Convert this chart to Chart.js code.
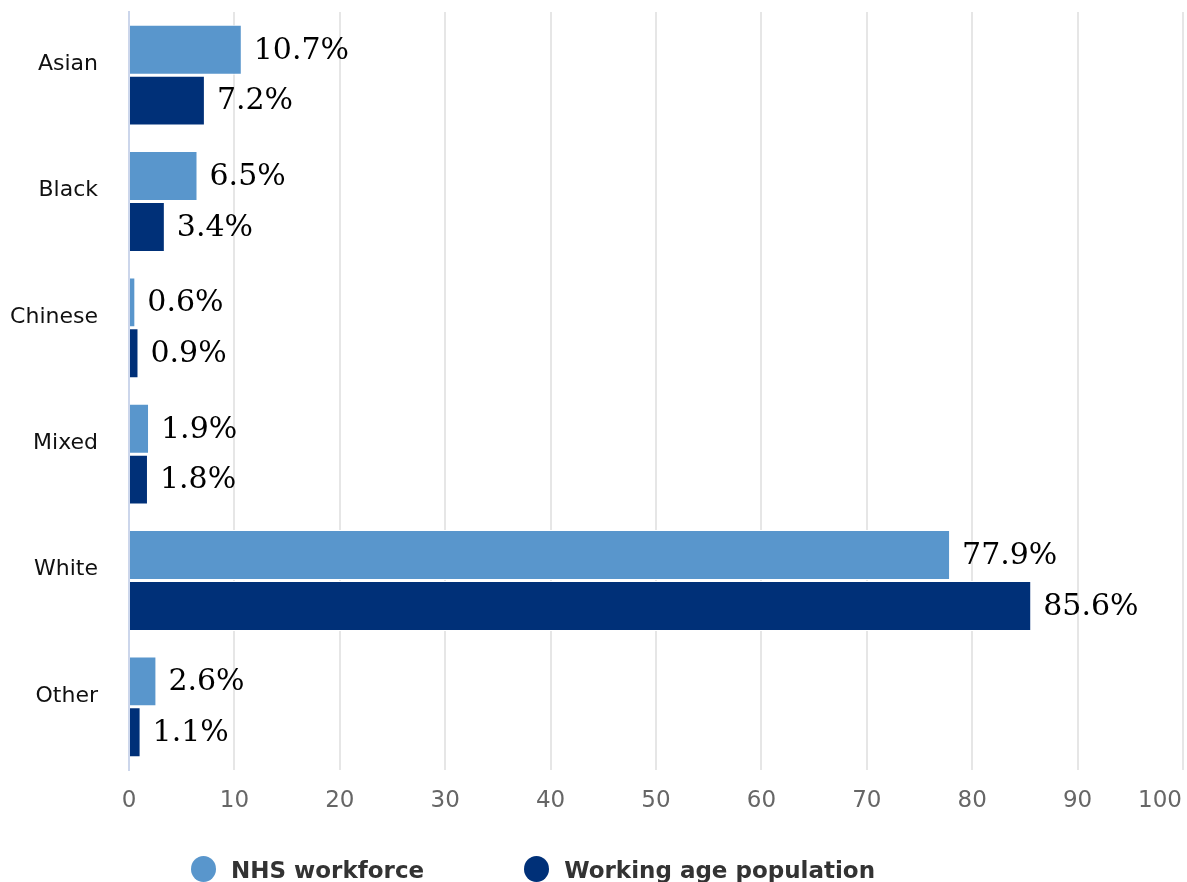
<!DOCTYPE html>
<html>
<head>
<meta charset="utf-8">
<script src="https://cdn.jsdelivr.net/npm/chart.js@4.4.1/dist/chart.umd.min.js"></script>
<style>
    html, body {
        margin: 0;
        padding: 0;
        background: #fff;
        overflow: hidden;
    }
    .wrap {
        position: relative;
        width: 1187px;
        height: 882px;
    }
    .legend {
        position: absolute;
        left: 191px;
        top: 857px;
        display: flex;
        gap: 100px;
        font-family: "DejaVu Sans", sans-serif;
        font-weight: bold;
        font-size: 23px;
        line-height: 26px;
        color: #333;
        white-space: nowrap;
    }
    .legend_item {
        display: flex;
        align-items: flex-start;
    }
    .dot {
        width: 25px;
        height: 26px;
        border-radius: 50%;
        margin-top: -1px;
        margin-right: 15px;
    }
</style>
</head>
<body>
<div class="wrap">
    <canvas id="chart"></canvas>
    <div class="legend" id="legend"></div>
</div>
<script>
// Данные
const categories = ['Asian', 'Black', 'Chinese', 'Mixed', 'White', 'Other'];
const nhs_workforce = [10.7, 6.5, 0.6, 1.9, 77.9, 2.6];
const working_age = [7.2, 3.4, 0.9, 1.8, 85.6, 1.1];
const x_ticks = [0, 10, 20, 30, 40, 50, 60, 70, 80, 90, 100];

const series = [
    {label: 'NHS workforce', color: '#5996cc', values: nhs_workforce},
    {label: 'Working age population', color: '#003078', values: working_age}
];

const TICK_SIZE = 23;
const TICK_PADDING = 17;

// Подписи значений справа от столбцов
const valueLabels = {
    id: 'valueLabels',
    afterDatasetsDraw(chart) {
        const ctx = chart.ctx;
        ctx.save();
        ctx.font = '30px "DejaVu Serif", serif';
        ctx.fillStyle = '#000';
        ctx.textAlign = 'left';
        ctx.textBaseline = 'middle';
        chart.data.datasets.forEach((ds, i) => {
            chart.getDatasetMeta(i).data.forEach((bar, j) => {
                ctx.fillText(ds.data[j].toFixed(1) + '%', bar.x + 12, bar.y + 1);
            });
        });
        ctx.restore();
    }
};

// Последняя подпись оси X прижата к правому краю, чтобы не обрезалась
const lastTick = {
    id: 'lastTick',
    afterDraw(chart) {
        const scale = chart.scales.x;
        const value = x_ticks[x_ticks.length - 1];
        const ctx = chart.ctx;
        ctx.save();
        ctx.font = TICK_SIZE + 'px "DejaVu Sans", sans-serif';
        ctx.fillStyle = '#666';
        ctx.textBaseline = 'middle';
        ctx.textAlign = 'right';
        const text = String(value);
        const w = ctx.measureText(text).width;
        const right = Math.min(scale.getPixelForValue(value) + w / 2, chart.width - 5);
        ctx.fillText(text, right, scale.top + TICK_PADDING + TICK_SIZE * 1.2 / 2);
        ctx.restore();
    }
};

const options = {
    indexAxis: 'y',
    responsive: true,
    maintainAspectRatio: false,
    animation: false,
    layout: {
        padding: {left: 10, top: 12, right: 4, bottom: 68}
    },
    plugins: {
        legend: {display: false},
        tooltip: {enabled: false}
    },
    scales: {
        x: {
            min: 0,
            max: 100,
            afterBuildTicks: (scale) => {
                scale.ticks = x_ticks.map(v => ({value: v}));
            },
            afterFit: (scale) => {
                scale.paddingLeft = 0;
                scale.paddingRight = 0;
                scale.height = 44;
            },
            grid: {
                drawTicks: false,
                lineWidth: 2,
                color: (c) => (c.tick && c.tick.value === 0) ? 'rgba(0,0,0,0)' : '#e6e6e6'
            },
            border: {display: false},
            ticks: {
                padding: TICK_PADDING,
                color: '#666',
                font: {family: '"DejaVu Sans", sans-serif', size: TICK_SIZE},
                maxRotation: 0,
                autoSkip: false,
                callback: (v) => v === x_ticks[x_ticks.length - 1] ? '' : String(v)
            }
        },
        y: {
            afterFit: (scale) => {
                scale.width = 119;
                scale.paddingTop = 0;
                scale.paddingBottom = 0;
            },
            grid: {display: false, drawTicks: false},
            border: {display: true, color: '#ccd6eb', width: 2},
            ticks: {
                padding: 31,
                labelOffset: -11,
                color: '#111',
                font: {family: '"DejaVu Sans", sans-serif', size: 22}
            }
        }
    }
};

const data = {
    labels: categories,
    datasets: series.map(s => ({
        label: s.label,
        data: s.values,
        backgroundColor: s.color,
        borderColor: '#fff',
        borderWidth: 1,
        categoryPercentage: 0.806,
        barPercentage: 0.98
    }))
};

new Chart(document.getElementById('chart').getContext('2d'), {
    type: 'bar',
    data: data,
    options: options,
    plugins: [valueLabels, lastTick]
});

// Легенда под графиком
const legend = document.getElementById('legend');
series.forEach(s => {
    const item = document.createElement('div');
    item.className = 'legend_item';
    const dot = document.createElement('span');
    dot.className = 'dot';
    dot.style.background = s.color;
    const text = document.createElement('span');
    text.textContent = s.label;
    item.appendChild(dot);
    item.appendChild(text);
    legend.appendChild(item);
});
</script>
</body>
</html>
